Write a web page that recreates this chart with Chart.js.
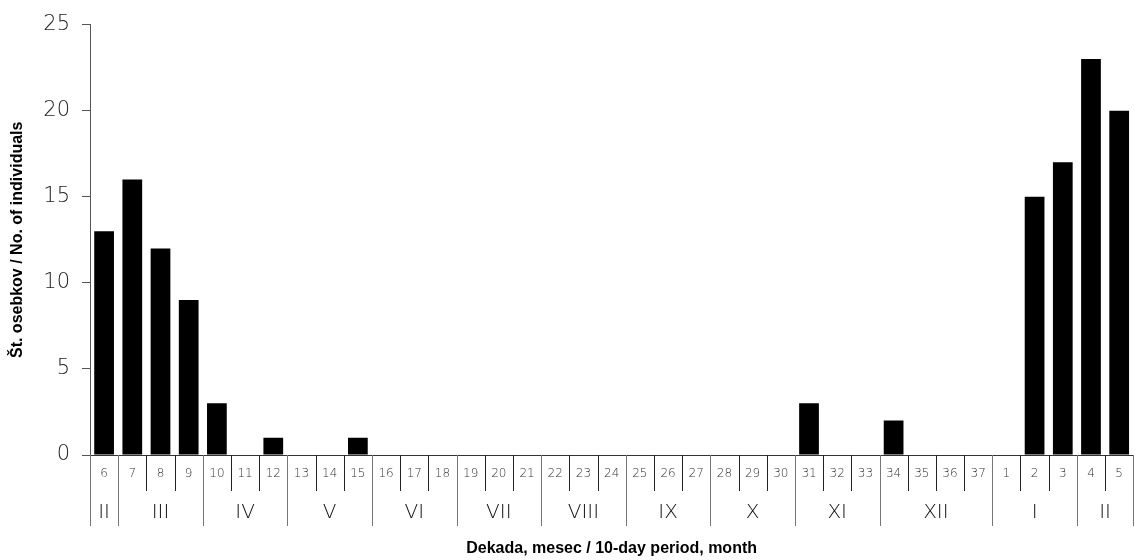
<!DOCTYPE html>
<html>
<head>
<meta charset="utf-8">
<script src="https://cdn.jsdelivr.net/npm/chart.js@4"></script>
<style>
html,body{margin:0;padding:0;background:#fff;}
#wrap{width:1135px;height:560px;position:relative;}
</style>
</head>
<body>
<div id="wrap"><canvas id="c"></canvas></div>
<script>
const decades = ['6','7','8','9','10','11','12','13','14','15','16','17','18','19','20','21','22','23','24','25','26','27','28','29','30','31','32','33','34','35','36','37','1','2','3','4','5'];
const counts = [13,16,12,9,3,0,1,0,0,1,0,0,0,0,0,0,0,0,0,0,0,0,0,0,0,3,0,0,2,0,0,0,0,15,17,23,20];
const months = ['II','III','IV','V','VI','VII','VIII','IX','X','XI','XII','I','II'];
const monthSpans = [1,3,3,3,3,3,3,3,3,3,4,3,2];
const yTicks = [0,5,10,15,20,25];

const LIGHT = '"DejaVu Sans", "Liberation Sans", sans-serif';

const groupPlugin = {
  id: 'groups',
  afterDraw(chart) {
    const ctx = chart.ctx;
    const x = chart.scales.x;
    const area = chart.chartArea;
    const base = area.bottom;
    const half = (x.getPixelForValue(1) - x.getPixelForValue(0)) / 2;
    ctx.save();
    ctx.lineWidth = 1;
    ctx.strokeStyle = '#222';
    for (let i = 0; i <= decades.length; i++) {
      const px = Math.round(x.getPixelForValue(i) - half) + 0.5;
      ctx.beginPath();
      ctx.moveTo(px, base);
      ctx.lineTo(px, base + 36);
      ctx.stroke();
    }
    ctx.strokeStyle = '#777';
    ctx.fillStyle = '#111';
    ctx.font = '200 20px ' + LIGHT;
    ctx.textAlign = 'center';
    ctx.textBaseline = 'middle';
    let start = 0;
    for (let m = 0; m <= months.length; m++) {
      const px = Math.round(x.getPixelForValue(start) - half) + 0.5;
      ctx.beginPath();
      ctx.moveTo(px, base);
      ctx.lineTo(px, base + 71);
      ctx.stroke();
      if (m < months.length) {
        const end = start + monthSpans[m];
        const cx = (x.getPixelForValue(start) + x.getPixelForValue(end - 1)) / 2;
        ctx.fillText(months[m], cx, base + 58);
        start = end;
      }
    }
    ctx.restore();
  }
};

new Chart(document.getElementById('c'), {
  type: 'bar',
  data: {
    labels: decades,
    datasets: [{
      data: counts,
      backgroundColor: '#000',
      borderWidth: 0,
      barPercentage: 0.7,
      categoryPercentage: 1.0
    }]
  },
  options: {
    responsive: true,
    maintainAspectRatio: false,
    animation: false,
    devicePixelRatio: 1,
    layout: { padding: { top: 23, right: 0, left: 0, bottom: 0 } },
    plugins: { legend: { display: false }, tooltip: { enabled: false } },
    scales: {
      x: {
        grid: { display: false, drawTicks: false },
        border: { display: true, color: '#333', width: 1 },
        ticks: {
          color: '#333',
          font: { family: LIGHT, size: 12, weight: '200' },
          padding: 12,
          maxRotation: 0,
          autoSkip: false
        },
        title: {
          display: true,
          text: 'Dekada, mesec / 10-day period, month',
          color: '#000',
          font: { family: '"Liberation Sans", Arial, sans-serif', size: 16, weight: 'bold' },
          padding: { top: 0, bottom: 2 }
        },
        afterFit(s) { s.height = 105; }
      },
      y: {
        min: 0, max: 25,
        afterBuildTicks(s) { s.ticks = yTicks.map(v => ({ value: v })); },
        grid: { drawOnChartArea: false, tickLength: 8, color: '#555' },
        border: { display: true, color: '#555', width: 1 },
        ticks: {
          color: '#222',
          font: { family: LIGHT, size: 21, weight: '200' },
          padding: 12
        },
        title: {
          display: true,
          text: 'Št. osebkov / No. of individuals',
          color: '#000',
          font: { family: '"Liberation Sans", Arial, sans-serif', size: 16, weight: 'bold' },
          padding: { top: 8, bottom: 0 }
        },
        afterFit(s) { s.width = 90; }
      }
    }
  },
  plugins: [groupPlugin]
});
</script>
</body>
</html>
